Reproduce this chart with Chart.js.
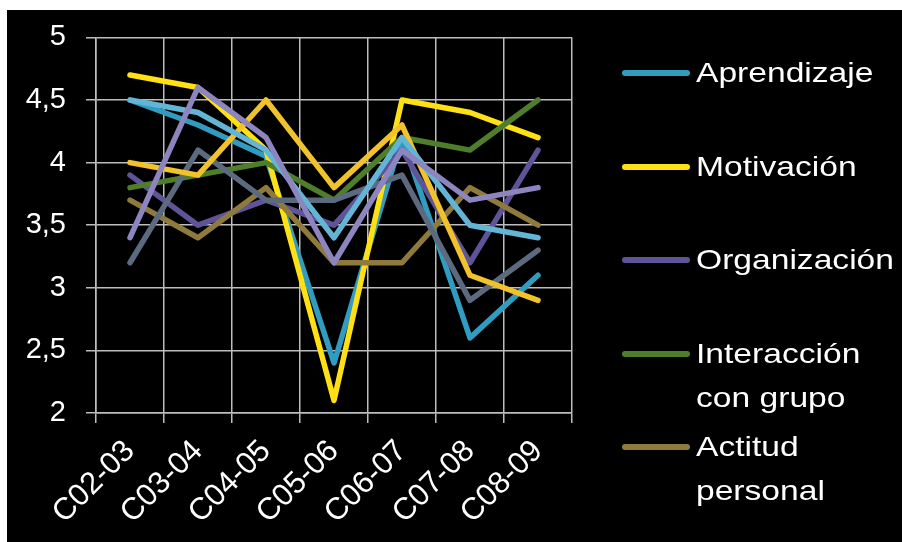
<!DOCTYPE html>
<html>
<head>
<meta charset="utf-8">
<script src="https://cdn.jsdelivr.net/npm/chart.js@4/dist/chart.umd.min.js"></script>
<style>
html,body{margin:0;padding:0;background:#fff;}
#wrap{position:relative;width:902px;height:542px;overflow:hidden;}
#legend{position:absolute;left:622px;top:0;width:280px;height:542px;font-family:"Liberation Sans",Arial,sans-serif;color:#fff;}
.item{position:absolute;left:0;width:280px;}
.sw{position:absolute;left:0;top:19px;width:68px;height:6px;border-radius:3px;}
.txt{position:absolute;left:74px;top:0;font-size:28px;line-height:44px;white-space:nowrap;transform:scaleX(1.2);transform-origin:0 0;}
</style>
</head>
<body>
<div id="wrap">
<canvas id="grafico" width="902" height="542"></canvas>
<div id="legend"></div>
</div>
<script>
var categorias = ["C02-03","C03-04","C04-05","C05-06","C06-07","C07-08","C08-09"];
var ticksY = [2, 2.5, 3, 3.5, 4, 4.5, 5];

var aprendizaje  = [4.5, 4.3, 4.05, 2.4, 4.2, 2.6, 3.1];
var motivacion   = [4.7, 4.6, 4.1, 2.1, 4.5, 4.4, 4.2];
var organizacion = [3.9, 3.5, 3.7, 3.5, 4.1, 3.2, 4.1];
var interaccion  = [3.8, 3.9, 4.0, 3.7, 4.2, 4.1, 4.5];
var actitud      = [3.7, 3.4, 3.8, 3.2, 3.2, 3.8, 3.5];
// series whose legend entries fall outside the picture
var serie6 = [3.2, 4.1, 3.7, 3.7, 3.9, 2.9, 3.3];
var serie7 = [4.0, 3.9, 4.5, 3.8, 4.3, 3.1, 2.9];
var serie8 = [4.5, 4.4, 4.1, 3.4, 4.2, 3.5, 3.4];
var serie9 = [3.4, 4.6, 4.2, 3.2, 4.1, 3.7, 3.8];

var series = [
	{ label: ["Aprendizaje"], data: aprendizaje, color: "#2f9cc0", legend: true },
	{ label: ["Motivación"], data: motivacion, color: "#ffe014", legend: true },
	{ label: ["Organización"], data: organizacion, color: "#5e5497", legend: true },
	{ label: ["Interacción", "con grupo"], data: interaccion, color: "#4f7e2b", legend: true },
	{ label: ["Actitud", "personal"], data: actitud, color: "#8e7a3c", legend: true },
	{ label: ["Serie 6"], data: serie6, color: "#5c6a80", legend: false },
	{ label: ["Serie 7"], data: serie7, color: "#f2c22a", legend: false },
	{ label: ["Serie 8"], data: serie8, color: "#62b5d5", legend: false },
	{ label: ["Serie 9"], data: serie9, color: "#8c85c0", legend: false }
];

var datasets = [];
for (var k = 0; k < series.length; k++) {
	datasets.push({
		label: series[k].label.join(" "),
		data: series[k].data,
		borderColor: series[k].color,
		backgroundColor: series[k].color,
		borderWidth: 5.5,
		borderJoinStyle: "round",
		borderCapStyle: "round",
		pointRadius: 0,
		tension: 0,
		order: series.length - k
	});
}

var fondo = {
	id: "fondo",
	beforeDraw: function(chart) {
		var ctx = chart.ctx;
		ctx.save();
		ctx.fillStyle = "#ffffff";
		ctx.fillRect(0, 0, chart.width, chart.height);
		ctx.fillStyle = "#000000";
		ctx.fillRect(7, 10, chart.width - 7, chart.height - 10);
		ctx.restore();
	}
};

var fuente = { family: "'Liberation Sans', Arial, sans-serif", size: 29 };
var fuenteX = { family: "'Liberation Sans', Arial, sans-serif", size: 31 };
var gris = "#bdbdbd";

var chart = new Chart(document.getElementById("grafico").getContext("2d"), {
	type: "line",
	data: { labels: categorias, datasets: datasets },
	plugins: [fondo],
	options: {
		responsive: false,
		animation: false,
		layout: { padding: { left: 0, top: 36, right: 330, bottom: 0 } },
		plugins: { legend: { display: false }, tooltip: { enabled: false } },
		scales: {
			x: {
				offset: true,
				grid: { offset: true, color: gris, lineWidth: 1.5, tickLength: 10, drawTicks: true },
				border: { color: gris, width: 1.5 },
				ticks: { color: "#ffffff", font: fuenteX, minRotation: 45, maxRotation: 45, autoSkip: false, padding: 10 },
				afterFit: function(scale) { scale.height = 129; }
			},
			y: {
				min: ticksY[0],
				max: ticksY[ticksY.length - 1],
				afterBuildTicks: function(scale) {
					scale.ticks = ticksY.map(function(v) { return { value: v }; });
				},
				grid: { color: gris, lineWidth: 1.5, tickLength: 10 },
				border: { color: gris, width: 1.5 },
				ticks: {
					color: "#ffffff", font: fuente, padding: 20,
					callback: function(v) { return String(v).replace(".", ","); }
				},
				afterFit: function(scale) { scale.width = 96; }
			}
		}
	}
});

// legend built from the series, drawn as html so two-line names work
var leg = document.getElementById("legend");
var n = 0;
for (var k = 0; k < series.length; k++) {
	if (!series[k].legend) continue;
	var it = document.createElement("div");
	it.className = "item";
	it.style.top = (51 + n * 93.5) + "px";
	var sw = document.createElement("div");
	sw.className = "sw";
	sw.style.background = series[k].color;
	var tx = document.createElement("div");
	tx.className = "txt";
	tx.innerHTML = series[k].label.join("<br>");
	it.appendChild(sw);
	it.appendChild(tx);
	leg.appendChild(it);
	n++;
}
</script>
</body>
</html>
